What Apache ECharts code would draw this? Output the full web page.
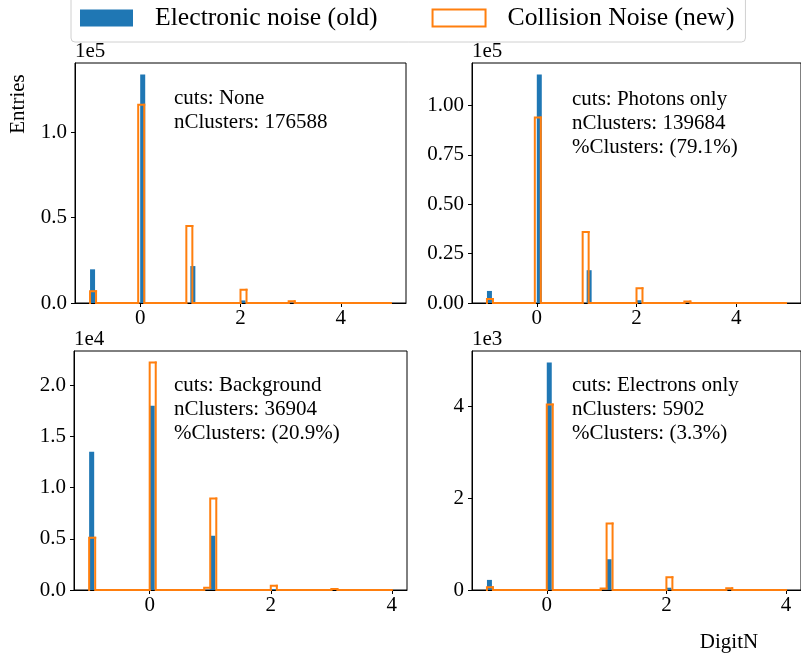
<!DOCTYPE html>
<html>
<head>
<meta charset="utf-8">
<script src="https://cdn.jsdelivr.net/npm/echarts@6.0.0/dist/echarts.min.js"></script>
<style>
  html, body { margin: 0; padding: 0; background: #fff; }
  #chart { width: 801px; height: 654px; }
</style>
</head>
<body>
<div id="chart"></div>
<script>
// ---------------- data ----------------
const digitN = [-1, 0, 1, 2, 3];

// Electronic noise (old) counts per DigitN value
const oldNone        = [19700, 133700, 21600, 1500, 0];
const oldPhotons     = [6100, 115700, 16600, 1400, 0];
const oldBackground  = [13500, 18000, 5300, 100, 0];
const oldElectrons   = [220, 4960, 670, 50, 0];

// Collision Noise (new) counts per DigitN value
const newNone        = [6800, 116000, 45000, 7800, 1000];
const newPhotons     = [2000, 93900, 36000, 7500, 800];
const newBackground  = [5100, 22240, 8950, 420, 100];
const newElectrons   = [60, 4040, 1450, 276, 40];

// small entries landing in the bin just below DigitN = 1 (new, per panel)
const newJustBelowOne = [0, 0, 220, 30];

const cutNames   = ['None', 'Photons only', 'Background', 'Electrons only'];
const nClusters  = [176588, 139684, 36904, 5902];
const pctClusters = ['', '79.1%', '20.9%', '3.3%'];

const xTickValues = [0, 2, 4];
const yTicksTopLeft     = [0, 50000, 100000];
const yTicksTopRight    = [0, 25000, 50000, 75000, 100000];
const yTicksBottomLeft  = [0, 5000, 10000, 15000, 20000];
const yTicksBottomRight = [0, 2000, 4000];

// ---------------- layout ----------------
const FONT = "'Liberation Serif', 'DejaVu Serif', serif";
const BLUE = '#1f77b4', ORANGE = '#ff7f0e';

const panels = [
  { old: oldNone, neu: newNone, range: [-1, 5], xExt: [-1.3, 5.3],
    grid: { left: 75, top: 63, width: 331, height: 240 },
    yTicks: yTicksTopLeft, scale: 1e5, dec: 1, expo: '1e5', textX: 174, textY: 86 },
  { old: oldPhotons, neu: newPhotons, range: [-1, 5], xExt: [-1.3, 5.3],
    grid: { left: 472, top: 63, width: 332, height: 240 },
    yTicks: yTicksTopRight, scale: 1e5, dec: 2, expo: '1e5', textX: 572, textY: 87 },
  { old: oldBackground, neu: newBackground, range: [-1, 4], xExt: [-1.25, 4.25],
    grid: { left: 74, top: 351, width: 333, height: 239 },
    yTicks: yTicksBottomLeft, scale: 1e4, dec: 1, expo: '1e4', textX: 174, textY: 373 },
  { old: oldElectrons, neu: newElectrons, range: [-1, 4], xExt: [-1.25, 4.25],
    grid: { left: 472, top: 351, width: 332, height: 239 },
    yTicks: yTicksBottomRight, scale: 1e3, dec: 0, expo: '1e3', textX: 572, textY: 373 }
];

function binCounts(values, counts, lo, hi, n) {
  const w = (hi - lo) / n;
  const arr = new Array(n).fill(0);
  values.forEach((v, k) => {
    const idx = Math.min(n - 1, Math.floor((v - lo) / w + 1e-9));
    arr[idx] += counts[k];
  });
  return arr;
}

function barRender(params, api) {
  const p0 = api.coord([api.value(0), api.value(2)]);
  const p1 = api.coord([api.value(1), 0]);
  return {
    type: 'rect',
    shape: { x: p0[0], y: p0[1], width: p1[0] - p0[0], height: p1[1] - p0[1] },
    style: { fill: BLUE }
  };
}

function stepRender(params, api) {
  const e0 = api.value(0), e1 = api.value(1), h = api.value(2), hp = api.value(3), last = api.value(4);
  const pts = [api.coord([e0, hp]), api.coord([e0, h]), api.coord([e1, h])];
  if (last) pts.push(api.coord([e1, 0]));
  return {
    type: 'polyline',
    shape: { points: pts },
    style: { stroke: ORANGE, lineWidth: 2, fill: null, lineCap: 'square', lineJoin: 'miter' }
  };
}

const option = {
  animation: false,
  backgroundColor: '#fff',
  textStyle: { fontFamily: FONT },
  grid: [], xAxis: [], yAxis: [], series: [], graphic: [],
  legend: {
    left: 71, top: -6, orient: 'horizontal',
    itemWidth: 53, itemHeight: 17, itemGap: 54,
    padding: [11, 11, 11, 9],
    borderColor: '#d0d0d0', borderWidth: 1, borderRadius: 4, backgroundColor: '#fff',
    selectedMode: false,
    textStyle: { fontSize: 25.7, fontFamily: FONT, color: '#000', padding: [0, 0, 0, 17] },
    data: [
      { name: 'Electronic noise (old)', icon: 'rect', itemStyle: { color: BLUE } },
      { name: 'Collision Noise (new)', icon: 'rect', itemStyle: { color: '#fff', borderColor: ORANGE, borderWidth: 2 } }
    ]
  }
};

panels.forEach((p, i) => {
  const lo = p.range[0], hi = p.range[1];
  // old: 60 filled bins; new: 50 step bins
  const nOld = 60, nNew = 50;
  const wOld = (hi - lo) / nOld, wNew = (hi - lo) / nNew;
  const oldHist = binCounts(digitN, p.old, lo, hi, nOld);
  const newHist = binCounts(digitN.concat([0.95]), p.neu.concat([newJustBelowOne[i]]), lo, hi, nNew);
  const blueData = oldHist.map((c, j) => [lo + j * wOld, lo + (j + 1) * wOld, c]);
  const orangeData = newHist.map((c, j) => [lo + j * wNew, lo + (j + 1) * wNew, c, j === 0 ? 0 : newHist[j - 1], j === nNew - 1 ? 1 : 0]);
  const yMax = Math.max(...p.old, ...p.neu) * 1.05;

  option.grid.push(Object.assign({ show: true, borderColor: '#000', borderWidth: 1, backgroundColor: 'transparent' }, p.grid));
  option.xAxis.push({
    type: 'value', gridIndex: i, min: p.xExt[0], max: p.xExt[1],
    splitLine: { show: false },
    axisLine: { show: true, onZero: false, lineStyle: { color: '#000', width: 1 } },
    axisTick: { show: true, length: 4, lineStyle: { color: '#000' }, customValues: xTickValues },
    axisLabel: { customValues: xTickValues, color: '#000', fontSize: 21, fontFamily: FONT, margin: 5,
                 formatter: v => String(v) }
  });
  option.yAxis.push({
    type: 'value', gridIndex: i, min: 0, max: yMax,
    splitLine: { show: false },
    axisLine: { show: true, onZero: false, lineStyle: { color: '#000', width: 1 } },
    axisTick: { show: true, length: 4, lineStyle: { color: '#000' }, customValues: p.yTicks },
    axisLabel: { customValues: p.yTicks, color: '#000', fontSize: 21, fontFamily: FONT, margin: 8,
                 formatter: v => (v / p.scale).toFixed(p.dec) }
  });
  option.series.push({
    type: 'custom', name: 'Electronic noise (old)', xAxisIndex: i, yAxisIndex: i,
    data: blueData, encode: { x: [0, 1], y: 2 }, itemStyle: { color: BLUE },
    renderItem: barRender, z: 2
  });
  option.series.push({
    type: 'custom', name: 'Collision Noise (new)', xAxisIndex: i, yAxisIndex: i,
    data: orangeData, encode: { x: [0, 1], y: 2 }, itemStyle: { color: ORANGE },
    renderItem: stepRender, z: 3
  });

  // exponent label
  option.graphic.push({
    type: 'text', left: p.grid.left, top: p.grid.top - 22,
    style: { text: p.expo, font: '21px ' + FONT, fill: '#000' }
  });
  // annotation
  const lines = ['cuts: ' + cutNames[i], 'nClusters: ' + nClusters[i]];
  if (pctClusters[i]) lines.push('%Clusters: (' + pctClusters[i] + ')');
  option.graphic.push({
    type: 'text', left: p.textX, top: p.textY,
    style: { text: lines.join('\n'), font: '21px ' + FONT, fill: '#000', lineHeight: 24 }
  });
});

option.graphic.push({
  type: 'text', x: 18, y: 104, rotation: Math.PI / 2,
  style: { text: 'Entries', font: '21px ' + FONT, fill: '#000', align: 'center', verticalAlign: 'middle' }
});
option.graphic.push({
  type: 'text', x: 729, y: 642,
  style: { text: 'DigitN', font: '21px ' + FONT, fill: '#000', align: 'center', verticalAlign: 'middle' }
});

const chart = echarts.init(document.getElementById('chart'), null, { renderer: 'canvas' });
chart.setOption(option);
</script>
</body>
</html>
